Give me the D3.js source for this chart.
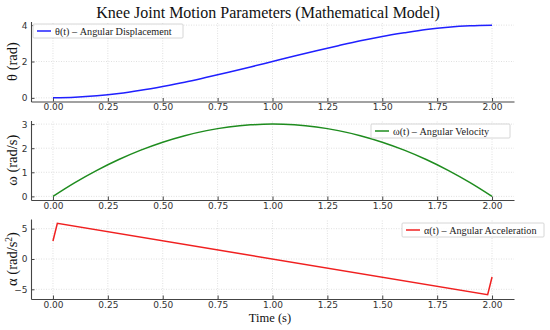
<!DOCTYPE html>
<html>
<head>
<meta charset="utf-8">
<script src="https://cdn.jsdelivr.net/npm/d3@7"></script>
<style>
  body { margin: 0; background: #fff; }
  svg { display: block; }
</style>
</head>
<body>
<div class="box"></div>
<script>
// time samples (s)
var time = [0, 0.1, 0.2, 0.3, 0.4, 0.5, 0.6, 0.7, 0.8, 0.9, 1.0,
            1.1, 1.2, 1.3, 1.4, 1.5, 1.6, 1.7, 1.8, 1.9, 2.0];
var theta = [0, 0.03, 0.11, 0.24, 0.42, 0.63, 0.86, 1.13, 1.41, 1.70, 2.0,
             2.30, 2.59, 2.87, 3.14, 3.38, 3.58, 3.76, 3.89, 3.97, 4.0];
var omega = [0, 0.57, 1.08, 1.53, 1.92, 2.25, 2.52, 2.73, 2.88, 2.97, 3.0,
             2.97, 2.88, 2.73, 2.52, 2.25, 1.92, 1.53, 1.08, 0.57, 0];
var alphaTime = [0, 0.02, 1.98, 2.0];
var alpha = [2.97, 5.88, -5.88, -2.97];

var xTicks = [0, 0.25, 0.5, 0.75, 1.0, 1.25, 1.5, 1.75, 2.0];

var panels = [
    { t: time, v: theta, color: "#2020ff", label: "θ(t) – Angular Displacement",
      ylab: ["θ (rad)"], ticks: [0, 2, 4], domain: [-0.2, 4.2], range: [101.5, 21.5],
      legend: { x: 33, y: 24, w: 150 } },
    { t: time, v: omega, color: "#1e8c1e", label: "ω(t) – Angular Velocity",
      ylab: ["ω (rad/s)"], ticks: [0, 1, 2, 3], domain: [-0.15, 3.15], range: [200, 120.5],
      legend: { x: 371, y: 124, w: 139 } },
    { t: alphaTime, v: alpha, color: "#f02020", label: "α(t) – Angular Acceleration",
      ylab: ["α (rad/s", "2", ")"], ticks: [-5, 0, 5], domain: [-6.6, 6.6], range: [299, 219],
      legend: { x: 402, y: 223, w: 142 } }
];

var width = 550, height = 330;
var x = d3.scaleLinear().domain([-0.1, 2.1]).range([31, 514]);

var svg = d3.create("svg")
    .attr("width", width)
    .attr("height", height)
    .attr("viewBox", [0, 0, width, height]);

svg.append("text")
    .attr("x", 268)
    .attr("y", 18)
    .attr("text-anchor", "middle")
    .attr("font-family", "Liberation Serif, Times New Roman, serif")
    .attr("font-size", 16)
    .attr("fill", "#111")
    .text("Knee Joint Motion Parameters (Mathematical Model)");

panels.forEach(function (p) {
    var y = d3.scaleLinear().domain(p.domain).range(p.range);
    var g = svg.append("g");

    // grid
    g.append("g")
        .selectAll("line")
        .data(xTicks)
        .join("line")
        .attr("x1", d => x(d)).attr("x2", d => x(d))
        .attr("y1", p.range[0]).attr("y2", p.range[1])
        .attr("stroke", "#d8d8d8").attr("stroke-width", 0.8)
        .attr("stroke-dasharray", "1,1.5");
    g.append("g")
        .selectAll("line")
        .data(p.ticks)
        .join("line")
        .attr("x1", x.range()[0]).attr("x2", x.range()[1])
        .attr("y1", d => y(d)).attr("y2", d => y(d))
        .attr("stroke", "#d8d8d8").attr("stroke-width", 0.8)
        .attr("stroke-dasharray", "1,1.5");

    // axes with inward ticks
    var xa = g.append("g")
        .attr("transform", `translate(0,${p.range[0]})`)
        .call(d3.axisBottom(x).tickValues(xTicks).tickFormat(d3.format(".2f")).tickSize(-3.5).tickPadding(2.5).tickSizeOuter(0));
    var ya = g.append("g")
        .attr("transform", `translate(${x.range()[0]},0)`)
        .call(d3.axisLeft(y).tickValues(p.ticks).tickFormat(d => d < 0 ? "−" + Math.abs(d) : d).tickSize(-3.5).tickPadding(3.5).tickSizeOuter(0));
    [xa, ya].forEach(function (a) {
        a.select(".domain").attr("stroke", "#444").attr("stroke-width", 1.1);
        a.selectAll(".tick line").attr("stroke", "#444");
        a.selectAll("text")
            .attr("font-family", "DejaVu Sans, sans-serif")
            .attr("font-size", 9)
            .attr("fill", "#333");
    });

    // y label
    var yl = g.append("text")
        .attr("transform", `translate(17,${(p.range[0] + p.range[1]) / 2}) rotate(-90)`)
        .attr("text-anchor", "middle")
        .attr("font-family", "Liberation Serif, Times New Roman, serif")
        .attr("font-size", 14.5)
        .attr("fill", "#111");
    yl.append("tspan").text(p.ylab[0]);
    if (p.ylab.length > 1) {
        yl.append("tspan").attr("font-size", 9.5).attr("dy", -5.5).text(p.ylab[1]);
        yl.append("tspan").attr("dy", 5.5).text(p.ylab[2]);
    }

    // the line
    var pts = p.t.map((t, i) => [t, p.v[i]]);
    g.append("path")
        .datum(pts)
        .attr("fill", "none")
        .attr("stroke", p.color)
        .attr("stroke-width", 1.5)
        .attr("d", d3.line()
            .x(d => x(d[0]))
            .y(d => y(d[1]))
            .curve(p.t.length > 4 ? d3.curveMonotoneX : d3.curveLinear));

    // legend
    var lg = g.append("g").attr("transform", `translate(${p.legend.x},${p.legend.y})`);
    lg.append("rect")
        .attr("width", p.legend.w).attr("height", 14)
        .attr("fill", "#fff").attr("fill-opacity", 0.85)
        .attr("stroke", "#ccc").attr("stroke-width", 0.8).attr("rx", 1);
    lg.append("line")
        .attr("x1", 4).attr("x2", 18).attr("y1", 7).attr("y2", 7)
        .attr("stroke", p.color).attr("stroke-width", 1.5);
    lg.append("text")
        .attr("x", 22).attr("y", 10.5)
        .attr("font-family", "Liberation Serif, Times New Roman, serif")
        .attr("font-size", 10.2)
        .attr("fill", "#222")
        .text(p.label);
});

svg.append("text")
    .attr("x", 270)
    .attr("y", 322)
    .attr("text-anchor", "middle")
    .attr("font-family", "Liberation Serif, Times New Roman, serif")
    .attr("font-size", 12.5)
    .attr("fill", "#111")
    .text("Time (s)");

document.querySelector(".box").appendChild(svg.node());
</script>
</body>
</html>
